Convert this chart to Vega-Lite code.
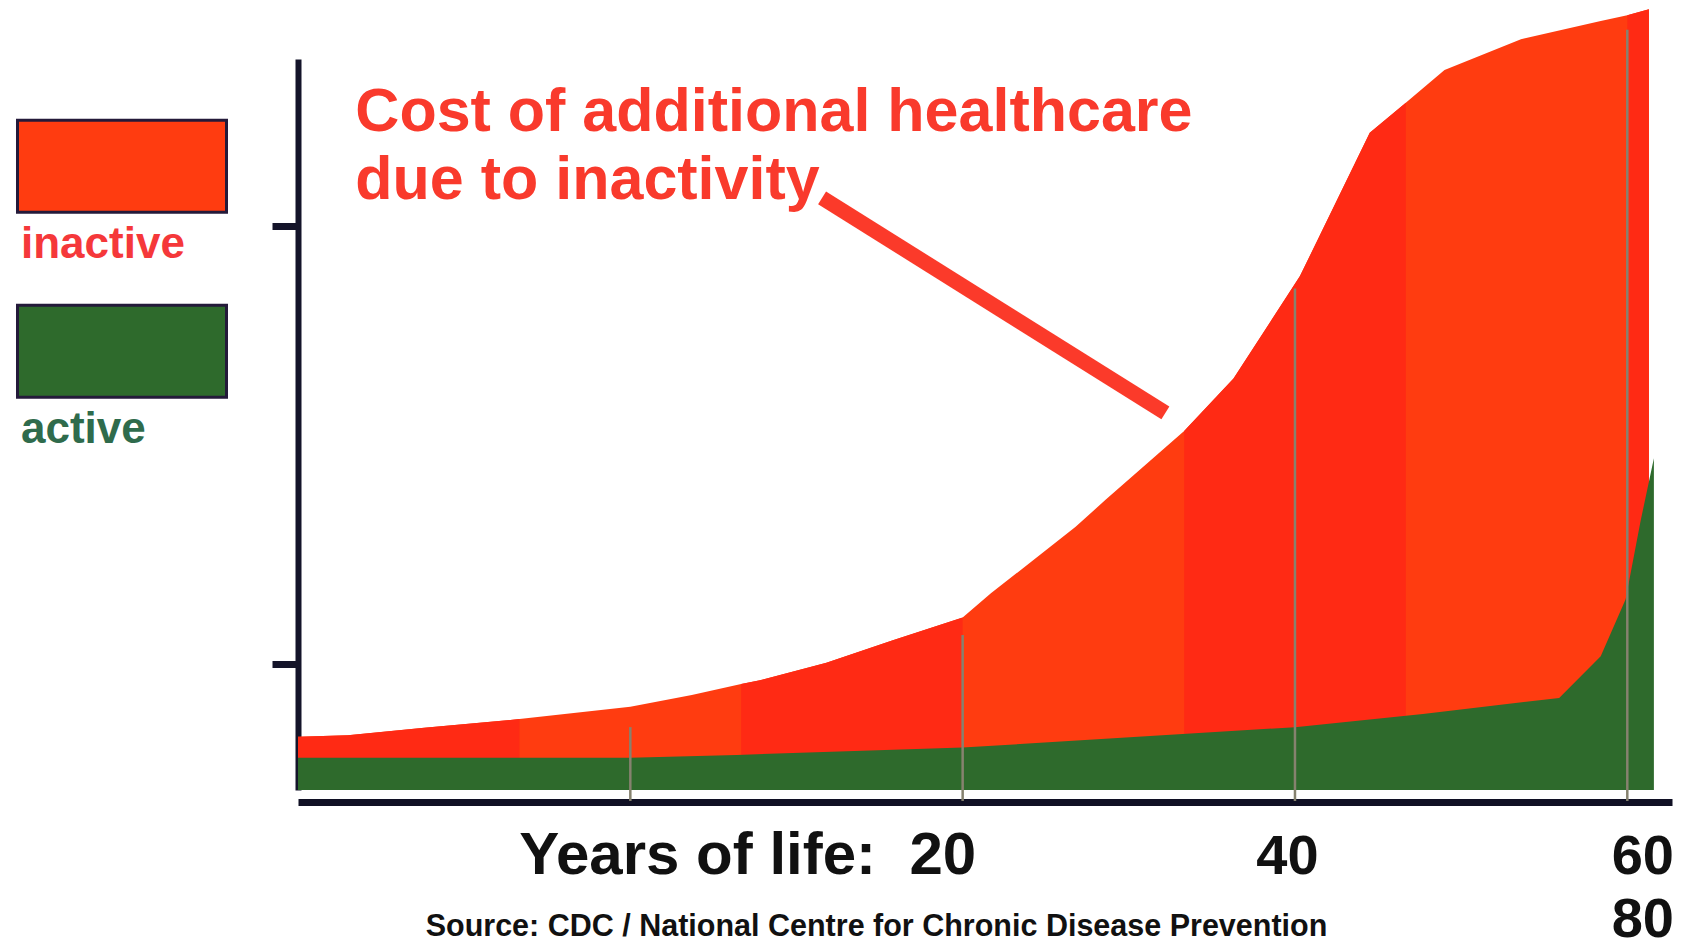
{
  "$schema": "https://vega.github.io/schema/vega-lite/v6.json",
  "width": 1374,
  "height": 731,
  "autosize": {"type": "none"},
  "padding": {"left": 298, "top": 59, "right": 16, "bottom": 158},
  "background": "white",
  "config": {"view": {"stroke": null}, "font": "Liberation Sans"},
  "datasets": {
    "costs": [
      {"series": "inactive", "year": -20, "cost": 7.3},
      {"series": "inactive", "year": -17, "cost": 7.5},
      {"series": "inactive", "year": -12.4, "cost": 8.5},
      {"series": "inactive", "year": -6.67, "cost": 9.7},
      {"series": "inactive", "year": 0, "cost": 11.4},
      {"series": "inactive", "year": 3.7, "cost": 13.0},
      {"series": "inactive", "year": 6.67, "cost": 14.5},
      {"series": "inactive", "year": 7.8, "cost": 15.0},
      {"series": "inactive", "year": 11.8, "cost": 17.4},
      {"series": "inactive", "year": 15.8, "cost": 20.5},
      {"series": "inactive", "year": 20, "cost": 23.6},
      {"series": "inactive", "year": 21.7, "cost": 26.9},
      {"series": "inactive", "year": 26.8, "cost": 36.0},
      {"series": "inactive", "year": 28.6, "cost": 39.7},
      {"series": "inactive", "year": 33.33, "cost": 49.1},
      {"series": "inactive", "year": 36.3, "cost": 56.3},
      {"series": "inactive", "year": 40.3, "cost": 70.3},
      {"series": "inactive", "year": 44.5, "cost": 89.9},
      {"series": "inactive", "year": 46.67, "cost": 94.0},
      {"series": "inactive", "year": 49, "cost": 98.5},
      {"series": "inactive", "year": 53.6, "cost": 102.7},
      {"series": "inactive", "year": 58.4, "cost": 105.2},
      {"series": "inactive", "year": 60, "cost": 106.0},
      {"series": "inactive", "year": 61.3, "cost": 106.8},
      {"series": "active", "year": -20, "cost": 4.4},
      {"series": "active", "year": 0, "cost": 4.4},
      {"series": "active", "year": 6.4, "cost": 4.8},
      {"series": "active", "year": 20, "cost": 5.8},
      {"series": "active", "year": 40, "cost": 8.6},
      {"series": "active", "year": 47.7, "cost": 10.4},
      {"series": "active", "year": 55.9, "cost": 12.6},
      {"series": "active", "year": 58.4, "cost": 18.3},
      {"series": "active", "year": 59.9, "cost": 26.1},
      {"series": "active", "year": 60.8, "cost": 36.8},
      {"series": "active", "year": 61.6, "cost": 45.4}
    ],
    "deepBands": [
      {"band": 1, "year": -20, "cost": 7.3},
      {"band": 1, "year": -17, "cost": 7.5},
      {"band": 1, "year": -12.4, "cost": 8.5},
      {"band": 1, "year": -6.67, "cost": 9.7},
      {"band": 3, "year": 6.67, "cost": 14.5},
      {"band": 3, "year": 7.8, "cost": 15.0},
      {"band": 3, "year": 11.8, "cost": 17.4},
      {"band": 3, "year": 15.8, "cost": 20.5},
      {"band": 3, "year": 20, "cost": 23.6},
      {"band": 5, "year": 33.33, "cost": 49.1},
      {"band": 5, "year": 36.3, "cost": 56.3},
      {"band": 5, "year": 40.3, "cost": 70.3},
      {"band": 5, "year": 44.5, "cost": 89.9},
      {"band": 5, "year": 46.67, "cost": 94.0},
      {"band": 7, "year": 60, "cost": 106.0},
      {"band": 7, "year": 61.3, "cost": 106.8}
    ],
    "gridAges": [
      {"year": 0, "top": 8.6},
      {"year": 20, "top": 21.2},
      {"year": 40, "top": 68.6},
      {"year": 60, "top": 104}
    ]
  },
  "layer": [
    {
      "data": {"name": "costs"},
      "transform": [{"filter": "datum.series == 'inactive'"}],
      "mark": {"type": "area", "interpolate": "linear"},
      "encoding": {
        "x": {
          "field": "year",
          "type": "quantitative",
          "scale": {"domain": [-20, 62.69], "nice": false, "zero": false},
          "axis": {
            "values": [20, 40, 60],
            "offset": 12,
            "domain": true,
            "domainColor": "#101024",
            "domainWidth": 7,
            "ticks": false,
            "tickSize": 0,
            "grid": false,
            "labelExpr": "datum.value == 20 ? 'Years of life:\u00a0 20' : datum.value == 60 ? ['60', '80'] : datum.label",
            "labelFont": "Liberation Sans",
            "labelFontSize": {"condition": {"test": "datum.value == 20", "value": 60}, "value": 56},
            "labelFontWeight": "bold",
            "labelColor": "#111111",
            "labelBaseline": "alphabetic",
            "labelPadding": 71,
            "labelLineHeight": 63,
            "labelLimit": 800,
            "labelAlign": {"condition": {"test": "datum.value == 20", "value": "right"}, "value": "center"},
            "labelOffset": {"condition": [{"test": "datum.value == 20", "value": 13}, {"test": "datum.value == 40", "value": -8}], "value": 15},
            "labelOverlap": false,
            "labelFlush": false,
            "labelBound": false,
            "title": "Source: CDC / National Centre for Chronic Disease Prevention",
            "titleFont": "Liberation Sans",
            "titleFontSize": 30.5,
            "titleFontWeight": "bold",
            "titleColor": "#111111",
            "titleX": 578,
            "titleY": 133,
            "titleAlign": "center",
            "titleBaseline": "alphabetic"
          }
        },
        "y": {
          "field": "cost",
          "type": "quantitative",
          "stack": null,
          "scale": {"domain": [0, 100], "nice": false, "zero": false},
          "axis": {
            "values": [17.24, 77.15],
            "domain": true,
            "domainColor": "#14142a",
            "domainWidth": 6,
            "ticks": true,
            "tickColor": "#14142a",
            "tickWidth": 7,
            "tickSize": 26,
            "labels": false,
            "grid": false,
            "title": null
          }
        },
        "color": {
          "field": "series",
          "type": "nominal",
          "scale": {"domain": ["inactive", "active"], "range": ["#ff3c10", "#2e6a2c"]},
          "legend": {
            "orient": "none",
            "legendX": -282,
            "legendY": 80,
            "title": null,
            "padding": 0,
            "offset": 0,
            "symbolType": "M-1,-1.194H1V-0.314H-1Z",
            "symbolSize": 43681,
            "symbolStrokeColor": "#241a3a",
            "symbolStrokeWidth": 3,
            "symbolOpacity": 1,
            "labelFont": "Liberation Sans",
            "labelFontSize": 44,
            "labelFontWeight": "bold",
            "labelColor": {"expr": "datum.value == 'inactive' ? '#f5383a' : '#2f6b4c'"},
            "labelOffset": -207,
            "labelLimit": 400,
            "rowPadding": 32
          }
        }
      }
    },
    {
      "data": {"name": "deepBands"},
      "mark": {"type": "area", "interpolate": "linear", "color": "#ff2a14"},
      "encoding": {
        "x": {"field": "year", "type": "quantitative"},
        "y": {"field": "cost", "type": "quantitative", "stack": null},
        "detail": {"field": "band", "type": "nominal"}
      }
    },
    {
      "data": {"name": "costs"},
      "transform": [{"filter": "datum.series == 'active'"}],
      "mark": {"type": "area", "interpolate": "linear"},
      "encoding": {
        "x": {"field": "year", "type": "quantitative"},
        "y": {"field": "cost", "type": "quantitative", "stack": null},
        "color": {"field": "series", "type": "nominal"}
      }
    },
    {
      "data": {"name": "gridAges"},
      "mark": {"type": "rule", "color": "#86826f", "strokeWidth": 2.5},
      "encoding": {
        "x": {"field": "year", "type": "quantitative"},
        "y": {"field": "top", "type": "quantitative"},
        "y2": {"datum": -1.5}
      }
    },
    {
      "data": {"values": [{}]},
      "mark": {"type": "rule", "color": "#fb3a2a", "strokeWidth": 15, "strokeCap": "butt"},
      "encoding": {
        "x": {"datum": 11.54},
        "y": {"datum": 81.0},
        "x2": {"datum": 32.2},
        "y2": {"datum": 51.6}
      }
    },
    {
      "data": {"values": [{}]},
      "mark": {
        "type": "text",
        "text": ["Cost of additional healthcare", "due to inactivity"],
        "align": "left",
        "baseline": "alphabetic",
        "lineHeight": 68,
        "font": "Liberation Sans",
        "fontSize": 61,
        "fontWeight": "bold",
        "color": "#f93a2c"
      },
      "encoding": {
        "x": {"datum": -16.55},
        "y": {"datum": 90.15}
      }
    }
  ]
}
